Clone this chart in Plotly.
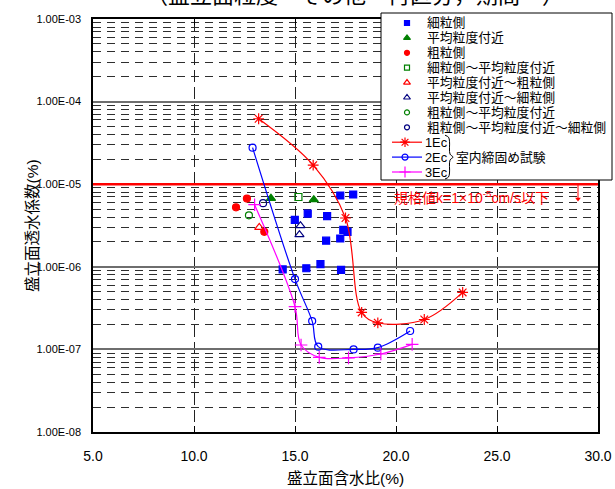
import plotly.graph_objects as go

# ---- data -------------------------------------------------------------
# 盛立面含水比 (%) / 盛立面透水係数
fine_x = [17.24, 17.88, 15.63, 16.59, 14.99, 17.39, 17.60, 16.54, 17.24, 14.39, 15.56, 16.26, 17.28]
fine_y = [7.3e-6, 7.5e-6, 4.4e-6, 4.1e-6, 3.7e-6, 2.8e-6, 2.65e-6, 2.07e-6, 2.2e-6, 9.3e-7, 9.6e-7, 1.08e-6, 9.2e-7]

mid_x = [13.81, 15.93]
mid_y = [6.75e-6, 6.5e-6]

coarse_x = [12.62, 12.08, 13.48]
coarse_y = [6.7e-6, 5.25e-6, 2.65e-6]

fine_mid_x = [15.17]
fine_mid_y = [7.0e-6]

mid_coarse_x = [13.23]
mid_coarse_y = [3.0e-6]

mid_fine_x = [15.27, 15.22]
mid_fine_y = [3.15e-6, 2.45e-6]

coarse_mid_x = [12.72]
coarse_mid_y = [4.2e-6]

coarse_mid_fine_x = [13.42]
coarse_mid_fine_y = [5.9e-6]

ec1_x = [13.2, 15.9, 17.5, 18.3, 19.1, 21.4, 23.3]
ec1_y = [6.2e-5, 1.7e-5, 3.9e-6, 2.8e-7, 2.1e-7, 2.3e-7, 4.9e-7]

ec2_x = [12.9, 15.0, 15.85, 16.15, 17.9, 19.1, 20.7]
ec2_y = [2.77e-5, 7.1e-7, 2.2e-7, 1.08e-7, 1.0e-7, 1.05e-7, 1.67e-7]

ec3_x = [13.0, 15.0, 15.3, 16.2, 17.65, 19.25, 20.8]
ec3_y = [5.65e-6, 3.3e-7, 1.13e-7, 8.0e-8, 7.9e-8, 8.8e-8, 1.15e-7]

k_limit = 1e-5

x_ticks = [5, 10, 15, 20, 25, 30]
x_ticktext = ["5.0", "10.0", "15.0", "20.0", "25.0", "30.0"]
y_ticks = [1e-8, 1e-7, 1e-6, 1e-5, 1e-4, 1e-3]
y_ticktext = ["1.00E-08", "1.00E-07", "1.00E-06", "1.00E-05", "1.00E-04", "1.00E-03"]

# ---- figure geometry (pixels) ------------------------------------------
W, H = 615, 489
L, R, T, B = 93, 598, 19, 432
FONT = "Liberation Sans, Noto Sans CJK JP, sans-serif"


def px(x):
    return x / W


def py(y):
    return 1 - y / H


BLUE, GREEN, RED, NAVY, MAG = "#0000FF", "#008000", "#FF0000", "#000080", "#FF00FF"

series = [
    ("細粒側", fine_x, fine_y, "square", BLUE, 7),
    ("平均粒度付近", mid_x, mid_y, "triangle-up", GREEN, 8),
    ("粗粒側", coarse_x, coarse_y, "circle", RED, 7),
    ("細粒側～平均粒度付近", fine_mid_x, fine_mid_y, "square-open", GREEN, 7),
    ("平均粒度付近～粗粒側", mid_coarse_x, mid_coarse_y, "triangle-up-open", RED, 8),
    ("平均粒度付近～細粒側", mid_fine_x, mid_fine_y, "triangle-up-open", NAVY, 8),
    ("粗粒側～平均粒度付近", coarse_mid_x, coarse_mid_y, "circle-open", GREEN, 7),
    ("粗粒側～平均粒度付近～細粒側", coarse_mid_fine_x, coarse_mid_fine_y, "circle-open", NAVY, 7),
]
curves = [
    ("1Ec", ec1_x, ec1_y, "asterisk-open", RED, 9),
    ("2Ec", ec2_x, ec2_y, "circle-open", BLUE, 7),
    ("3Ec", ec3_x, ec3_y, "cross-thin-open", MAG, 9),
]

fig = go.Figure()

# permeability limit line k = 1e-5
fig.add_trace(go.Scatter(
    x=[5, 30], y=[k_limit, k_limit], mode="lines", showlegend=False, hoverinfo="skip",
    line=dict(color=RED, width=2.5), xaxis="x", yaxis="y", cliponaxis=False))

for name, xs, ys, sym, col, size in series:
    fig.add_trace(go.Scatter(
        x=xs, y=ys, mode="markers", name=name, showlegend=False,
        marker=dict(symbol=sym, color=col, size=size, line=dict(color=col, width=1.2)),
        xaxis="x", yaxis="y"))

for name, xs, ys, sym, col, size in curves:
    fig.add_trace(go.Scatter(
        x=xs, y=ys, mode="lines+markers", name=name, showlegend=False,
        line=dict(color=col, width=1.2, shape="spline", smoothing=1),
        marker=dict(symbol=sym, color=col, size=size, line=dict(color=col, width=1.2)),
        xaxis="x", yaxis="y"))

# ---- legend panel drawn on a pixel-space overlay -----------------------
box = dict(x0=381, x1=612, y0=13, y1=180)
fig.add_trace(go.Scatter(
    x=[box["x0"], box["x1"], box["x1"], box["x0"], box["x0"]],
    y=[box["y0"], box["y0"], box["y1"], box["y1"], box["y0"]],
    mode="lines", fill="toself", fillcolor="white",
    line=dict(color="black", width=1), showlegend=False, hoverinfo="skip",
    xaxis="x2", yaxis="y2"))

row0, step = 23, 14.9
sw_x, txt_x = 407, 425
annotations = []
for i, (name, _, _, sym, col, size) in enumerate(series):
    yy = row0 + i * step
    fig.add_trace(go.Scatter(
        x=[sw_x], y=[yy], mode="markers", showlegend=False, hoverinfo="skip",
        marker=dict(symbol=sym, color=col, size=size - 2, line=dict(color=col, width=1.2)),
        xaxis="x2", yaxis="y2", cliponaxis=False))
    annotations.append(dict(x=px(txt_x), y=py(yy), xref="paper", yref="paper",
                            text=name, showarrow=False, xanchor="left", yanchor="middle",
                            font=dict(size=12.8, color="black", family=FONT)))

for j, (name, _, _, sym, col, size) in enumerate(curves):
    yy = row0 + (len(series) + j) * step
    fig.add_trace(go.Scatter(
        x=[392, 422], y=[yy, yy], mode="lines", showlegend=False, hoverinfo="skip",
        line=dict(color=col, width=1.2), xaxis="x2", yaxis="y2", cliponaxis=False))
    fig.add_trace(go.Scatter(
        x=[405], y=[yy], mode="markers", showlegend=False, hoverinfo="skip",
        marker=dict(symbol=sym, color=col, size=size - 1, line=dict(color=col, width=1.2)),
        xaxis="x2", yaxis="y2", cliponaxis=False))
    annotations.append(dict(x=px(423), y=py(yy), xref="paper", yref="paper",
                            text=name, showarrow=False, xanchor="left", yanchor="middle",
                            font=dict(size=12.8, color="black", family=FONT)))

# curly brace grouping the three compaction curves
yb0 = row0 + len(series) * step - 7
yb1 = row0 + (len(series) + 2) * step + 7
ym = (yb0 + yb1) / 2
fig.add_trace(go.Scatter(
    x=[445, 448.5, 449.5, 450, 453, 450, 449.5, 448.5, 445],
    y=[yb0, yb0 + 2, yb0 + 6, ym - 3, ym, ym + 3, yb1 - 6, yb1 - 2, yb1],
    mode="lines", line=dict(color="black", width=1, shape="spline"),
    showlegend=False, hoverinfo="skip", xaxis="x2", yaxis="y2", cliponaxis=False))
annotations.append(dict(x=px(454), y=py(ym), xref="paper", yref="paper",
                        text="室内締固め試験", showarrow=False, xanchor="left", yanchor="middle",
                        font=dict(size=12.8, color="black", family=FONT)))

# small downward arrow marking the region below the limit
fig.add_trace(go.Scatter(
    x=[578, 578], y=[184, 198], mode="lines", showlegend=False, hoverinfo="skip",
    line=dict(color=RED, width=1), xaxis="x2", yaxis="y2", cliponaxis=False))
fig.add_trace(go.Scatter(
    x=[578], y=[199], mode="markers", showlegend=False, hoverinfo="skip",
    marker=dict(symbol="triangle-down", color=RED, size=5),
    xaxis="x2", yaxis="y2", cliponaxis=False))

# ---- titles and the limit label ----------------------------------------
annotations += [
    dict(x=px(355), y=py(-4), xref="paper", yref="paper",
         text="（盛立面粒度　その他　再区分，期間一）", showarrow=False,
         xanchor="center", yanchor="middle", font=dict(size=22, color="black", family=FONT)),
    dict(x=px(345), y=py(478), xref="paper", yref="paper",
         text="盛立面含水比(%)", showarrow=False, xanchor="center", yanchor="middle",
         font=dict(size=15.5, color="black", family=FONT)),
    dict(x=px(32), y=py(226), xref="paper", yref="paper",
         text="盛立面透水係数(%)", showarrow=False, textangle=-90,
         xanchor="center", yanchor="middle", font=dict(size=15.5, color="black", family=FONT)),
    dict(x=px(392), y=py(197), xref="paper", yref="paper",
         text="規格値k=1×10<sup>-5</sup>cm/s以下", showarrow=False,
         xanchor="left", yanchor="middle", font=dict(size=14, color=RED, family=FONT)),
]

minor_vals = [m * 10.0 ** e for e in range(-8, -3) for m in range(2, 10)]

fig.update_layout(
    template="none",
    width=W, height=H,
    margin=dict(l=0, r=0, t=0, b=0),
    paper_bgcolor="white", plot_bgcolor="rgba(0,0,0,0)",
    font=dict(family=FONT, color="black"),
    showlegend=False,
    xaxis=dict(domain=[L / W, R / W], range=[5, 30], anchor="y",
               tickmode="array", tickvals=x_ticks, ticktext=x_ticktext,
               showgrid=True, gridcolor="#222222", griddash="12px,5px", gridwidth=1,
               showline=True, mirror="ticks", linecolor="black", linewidth=1.5,
               ticks="inside", ticklen=6, tickcolor="black", ticklabelstandoff=10,
               tickfont=dict(size=14, family=FONT), zeroline=False, automargin=False),
    yaxis=dict(domain=[1 - B / H, 1 - T / H], type="log", range=[-8, -3], anchor="x",
               tickmode="array", tickvals=y_ticks, ticktext=y_ticktext,
               showgrid=True, gridcolor="#6e6e6e", gridwidth=1.8,
               minor=dict(tickmode="array", tickvals=minor_vals, showgrid=True,
                          gridcolor="#2e2e2e", griddash="8px,6px", gridwidth=1, ticks=""),
               showline=True, mirror=True, linecolor="black", linewidth=1.5,
               ticks="", ticklabelstandoff=8,
               tickfont=dict(size=11, family=FONT), zeroline=False, automargin=False),
    xaxis2=dict(domain=[0, 1], range=[0, W], anchor="y2", visible=False, fixedrange=True),
    yaxis2=dict(domain=[0, 1], range=[H, 0], anchor="x2", visible=False, fixedrange=True),
    annotations=annotations,
)

fig.write_html("out.html")
